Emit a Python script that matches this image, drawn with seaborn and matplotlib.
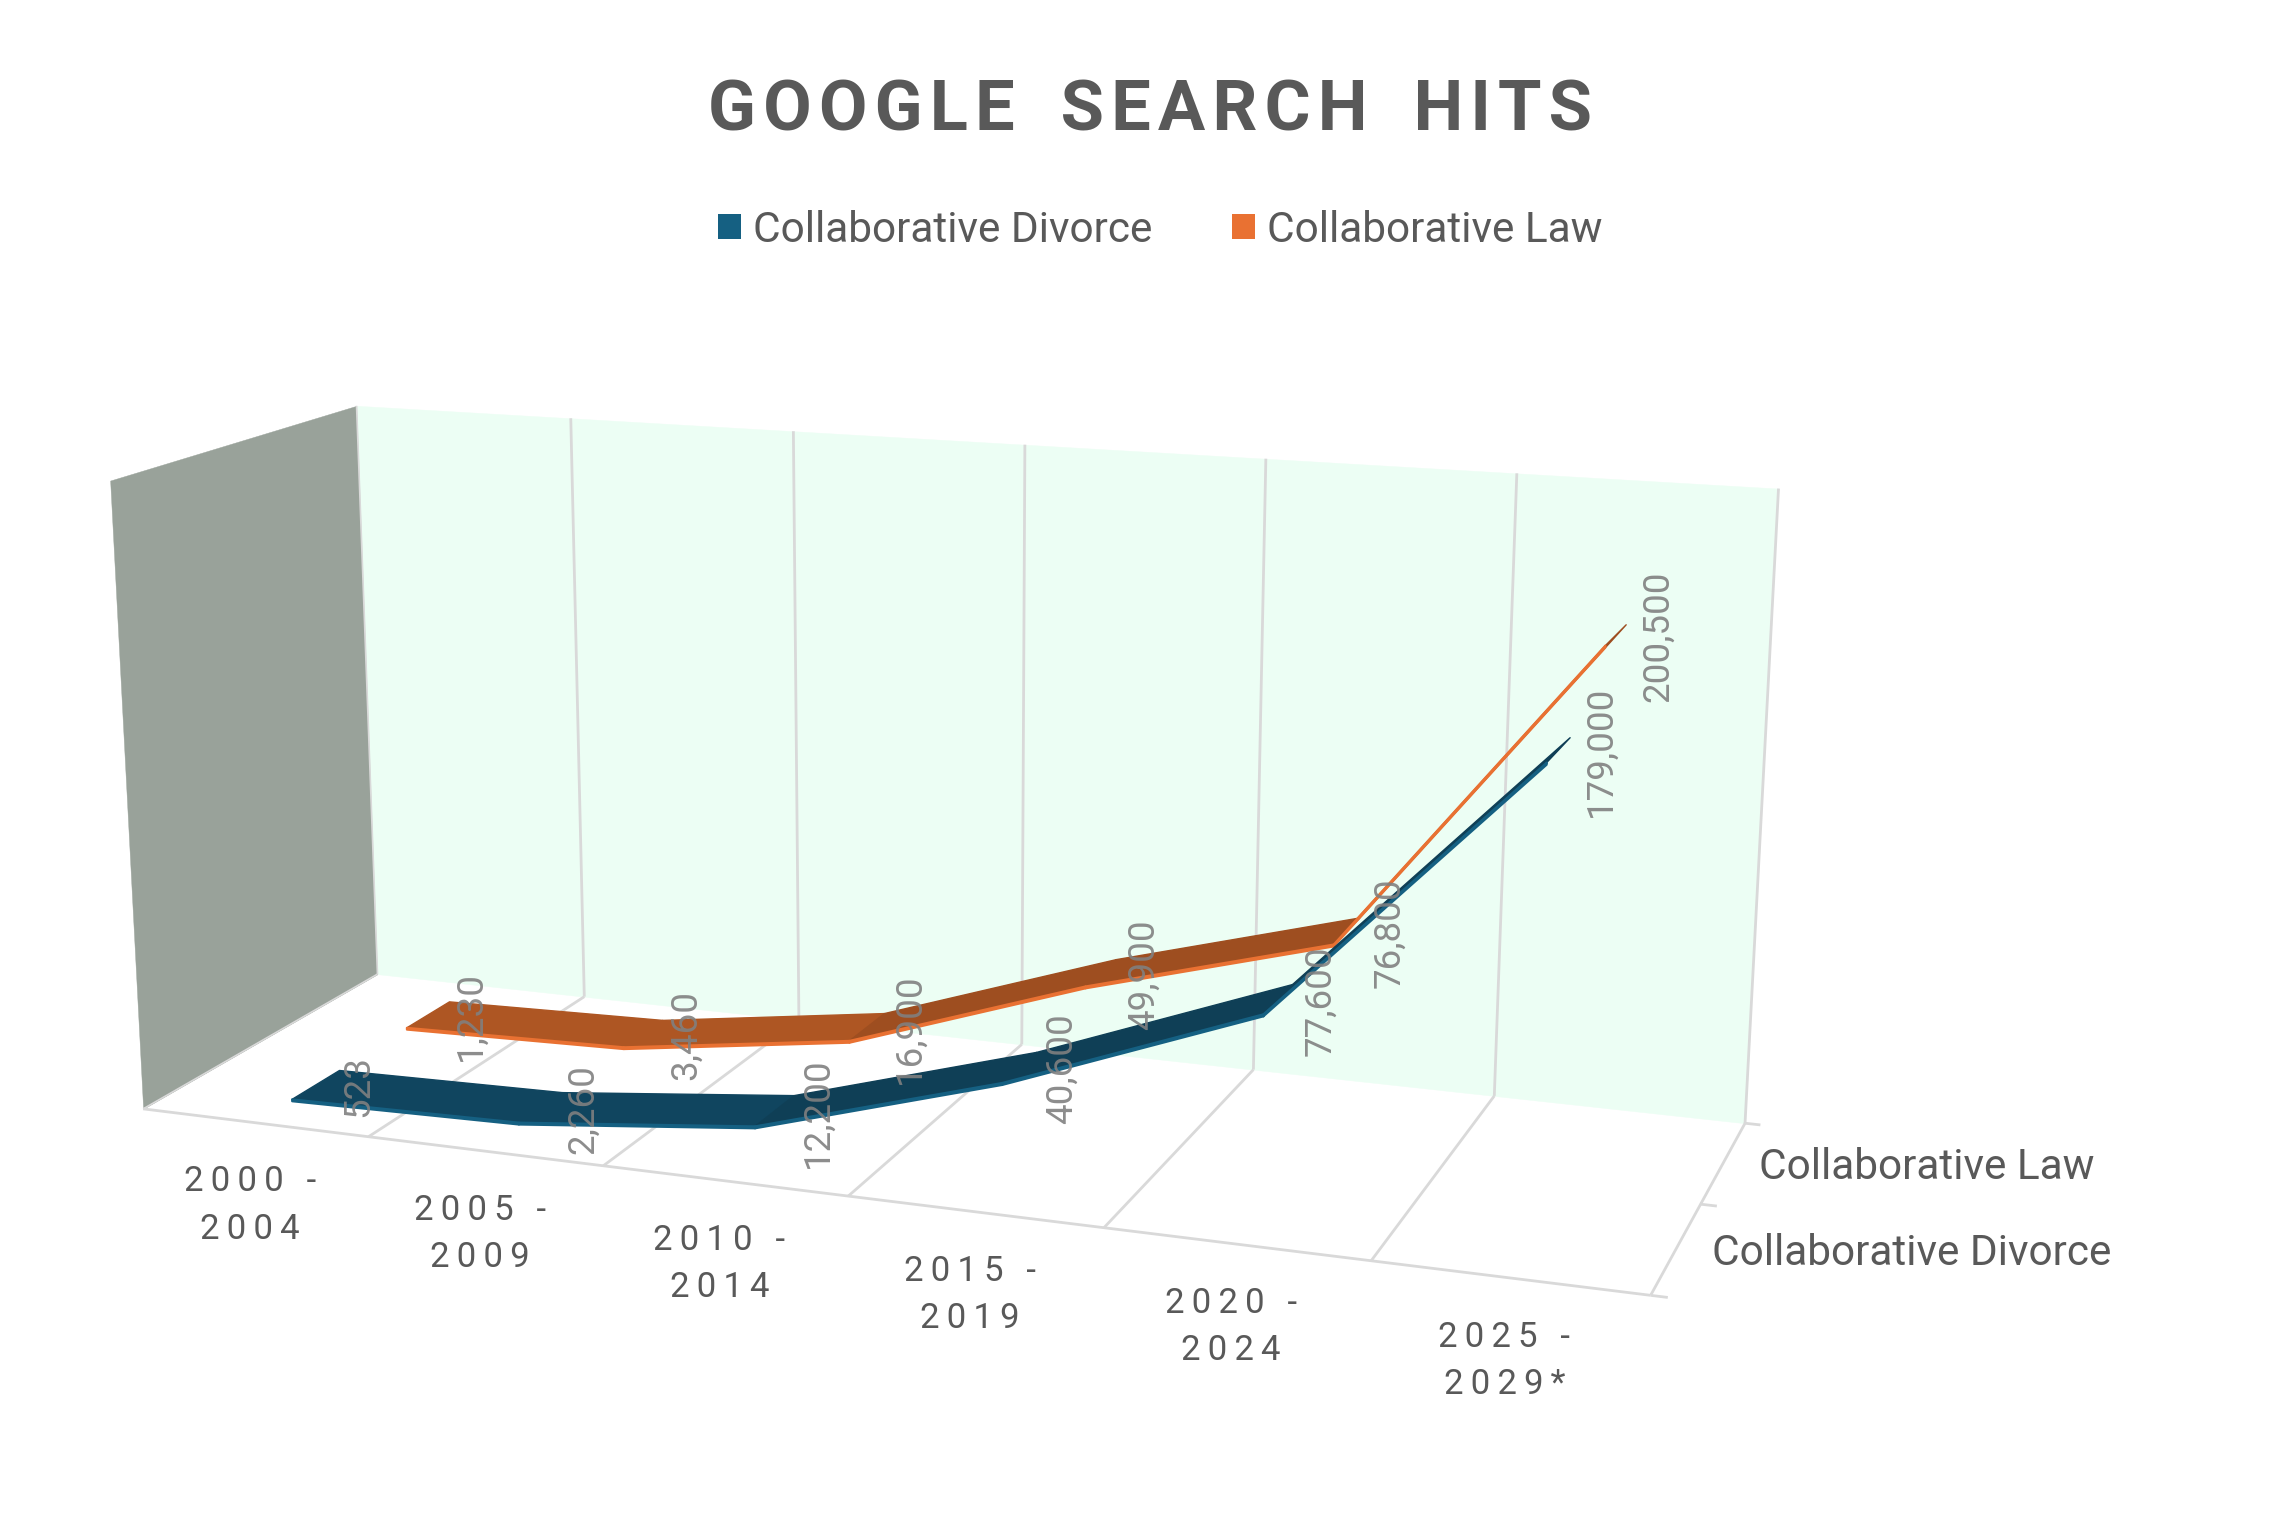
import numpy as np
import pandas as pd
import seaborn as sns
import matplotlib
matplotlib.use("Agg")
import matplotlib.pyplot as plt
from matplotlib.patches import Patch
from mpl_toolkits.mplot3d import proj3d
from mpl_toolkits.mplot3d.art3d import Poly3DCollection, Line3DCollection

# ---------- data ----------
periods = ["2000 -\n2004", "2005 -\n2009", "2010 -\n2014", "2015 -\n2019", "2020 -\n2024", "2025 -\n2029*"]
series_names = ["Collaborative Divorce", "Collaborative Law"]
divorce_hits = [523, 2260, 12200, 40600, 77600, 179000]
law_hits = [1230, 3460, 16900, 49900, 76800, 200500]
value_axis_max = 250000

# ---------- style ----------
sns.set_theme(style="white")
plt.rcParams["font.family"] = ["Roboto", "DejaVu Sans"]
front_colors = sns.color_palette(["#156082", "#E97132"])
top_flat = ["#10455F", "#AE5623"]
top_steep = ["#0F3F56", "#9E4E20"]
GRID = "#D9D9D9"
TXT = "#595959"
H = 1522

# ---------- camera: fit to the box of the chart (x band, depth band, share of axis max -> px) ----------
cam_world = np.array([
    (0,0,0),(1,0,0),(2,0,0),(3,0,0),(4,0,0),(5,0,0),(6,0,0),
    (0,2,0),(1,2,0),(2,2,0),(3,2,0),(4,2,0),(5,2,0),(6,2,0),(6,1,0),
    (0,0,1),(0,2,1),(1,2,1),(4,2,1),(5,2,1),(6,2,1)], float)
cam_px = np.array([
    (142,1108.6),(368,1136.6),(605.5,1165.7),(849.6,1195),(1104,1227),(1370,1262),(1651,1295),
    (377.4,974.4),(584,996),(799,1020),(1022,1045),(1252.7,1070),(1494.6,1095.5),(1745.5,1122.7),(1699.6,1206),
    (109.6,481),(357,406.5),(571,418),(1266,458.6),(1516,473),(1779,488)], float)

def fit_camera():
    rows = []
    for (x, y, z), (u, v) in zip(cam_world, cam_px / 1000.0):
        rows.append([x, y, z, 1, 0, 0, 0, 0, -u*x, -u*y, -u*z, -u])
        rows.append([0, 0, 0, 0, x, y, z, 1, -v*x, -v*y, -v*z, -v])
    P = np.linalg.svd(np.array(rows))[2][-1].reshape(3, 4)
    P = np.diag([1000.0, 1000.0, 1.0]) @ P
    P[:, 2] /= value_axis_max          # z column in data units
    return P

P_px = fit_camera()

fig = plt.figure(figsize=(22.9, 15.22), dpi=100, facecolor="white")
side = 2290 / 1522
ax = fig.add_axes([0, (1 - side) / 2, 1, side], projection="3d", computed_zorder=False)
ax.set_axis_off()
ax.apply_aspect()

def camera_matrix():
    flip = np.array([[1, 0, 0], [0, -1, H], [0, 0, 1.0]])
    to2d = np.linalg.inv(ax.transData.get_affine().get_matrix())
    q = to2d @ flip @ P_px
    return np.array([q[0], q[1], [0, 0, 0, 1.0], q[2]])

ax.get_proj = camera_matrix

def quad(pts, color, z, lw=0.3):
    ax.add_collection3d(Poly3DCollection([pts], facecolors=color, edgecolors=color, linewidths=lw, zorder=z))

def segs(lines, lw):
    ax.add_collection3d(Line3DCollection(lines, colors=GRID, linewidths=lw, zorder=2))

def label(x, y, z, text, dx, dy, **kw):
    """Place text at the projected position of a 3D point, shifted by (dx, dy) pixels."""
    X, Y, _ = proj3d.proj_transform(x, y, z, camera_matrix())
    ax.annotate(text, xy=(X, Y), xycoords="data", xytext=(dx, dy), textcoords="offset pixels", annotation_clip=False, **kw)

n = len(periods)
vmax = value_axis_max
# walls
quad([(0, 0, 0), (0, 2, 0), (0, 2, vmax), (0, 0, vmax)], "#99A29A", 1)
quad([(0, 2, 0), (n, 2, 0), (n, 2, vmax), (0, 2, vmax)], "#ECFEF4", 1)
# grid
segs([[(i, 2, 0), (i, 2, vmax)] for i in range(1, n + 1)] + [[(i, 0, 0), (i, 2, 0)] for i in range(1, n + 1)]
     + [[(0, 0, 0), (n, 0, 0)]]
     + [[(n, d, 0), (n + 0.06, d, 0)] for d in range(3)], 2)
segs([[(0, 2, 0), (0, 2, vmax)], [(0, 0, 0), (0, 2, 0)]], 1.2)

# ribbons
df = pd.DataFrame({"band": np.arange(n) + 0.5, series_names[0]: divorce_hits, series_names[1]: law_hits})
half_width = 0.2
thick = 800
for s, name in reversed(list(enumerate(series_names))):
    base = 3 + (1 - s) * 2
    y0, y1 = s + 0.5 - half_width, s + 0.5 + half_width
    xs, vs = df["band"].to_numpy(float), df[name].to_numpy(float)
    for i in range(n - 1):
        top = [(xs[i], y0, vs[i]), (xs[i+1], y0, vs[i+1]), (xs[i+1], y1, vs[i+1]), (xs[i], y1, vs[i])]
        front = [(xs[i], y0, vs[i]), (xs[i+1], y0, vs[i+1]), (xs[i+1], y0, vs[i+1]-thick), (xs[i], y0, vs[i]-thick)]
        quad(top, top_flat[s] if i < 2 else top_steep[s], base, lw=1.0)
        quad(front, front_colors[s], base + 0.1, lw=1.5)

# data labels
for s, name in enumerate(series_names):
    for i, v in enumerate(df[name]):
        label(i + 0.5, s + 0.5, v, f"{v:,}", 43, -2, rotation=90, ha="center", va="center",
              fontsize=26.5, color="#808080", alpha=0.9, zorder=10)

# category and depth labels
spaced = lambda t: "\n".join("\u2009".join(line) for line in t.split("\n"))
for i, p in enumerate(periods):
    label(i + 0.5, 0, 0, spaced(p), -5, -83, ha="center", va="center", fontsize=25,
          color=TXT, linespacing=1.55, zorder=10)
for s, name in enumerate(series_names):
    label(n, s + 0.5, 0, name, 36, -5, ha="left", va="center", fontsize=30.5, color=TXT, zorder=10)

# title + legend
title = "\u200a".join("GOOGLE SEARCH HITS").replace(" ", "\u200a \u200a")
fig.text(1150 / 2290, 1 - 111 / H, title, ha="center", va="center", fontsize=50.7, fontweight="bold", color=TXT)
handles = [Patch(facecolor=c, edgecolor="none") for c in front_colors]
fig.legend(handles, series_names, loc="center", bbox_to_anchor=(1160 / 2290, 1 - 230 / H), ncol=2, frameon=False,
           fontsize=30.5, handlelength=0.555, handleheight=0.555, handletextpad=0.28, columnspacing=1.87, labelcolor=TXT)

fig.savefig("out.png", dpi=100, facecolor="white")
